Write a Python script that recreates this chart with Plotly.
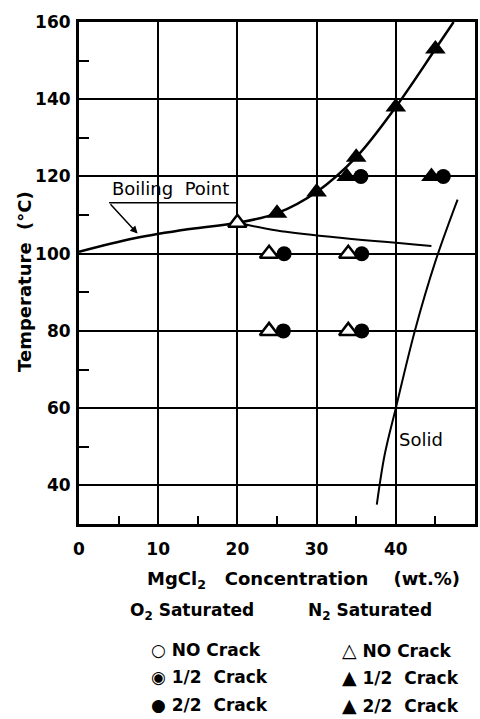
import plotly.graph_objects as go

# ---- data ----
bp_x = [0, 7, 14, 20, 25, 30, 35, 40, 45, 47.3]
bp_y = [100.5, 104, 106.4, 108, 110.5, 116, 125, 138, 153, 160]
bp2_x = [20, 25, 32, 44.5]
bp2_y = [108, 106, 104.3, 102]
solid_x = [37.6, 38.6, 40, 42.4, 45, 47.8]
solid_y = [35, 48, 60, 80, 98, 114]

n2_no_x = [20, 24, 34, 24, 34]
n2_no_y = [108, 100, 100, 80, 80]
n2_full_x = [25, 30, 35, 40, 45, 33.8, 44.5]
n2_full_y = [110.5, 116, 125, 138, 153, 120, 120]
o2_full_x = [35.6, 46, 25.9, 35.7, 25.8, 35.7]
o2_full_y = [120, 120, 100, 100, 80, 80]

x_ticks = [0, 10, 20, 30, 40]
y_ticks = [40, 60, 80, 100, 120, 140, 160]

FONT = "DejaVu Sans"

fig = go.Figure()
fig.add_trace(go.Scatter(x=bp_x, y=bp_y, mode="lines",
                         line=dict(color="black", width=2.5, shape="spline")))
fig.add_trace(go.Scatter(x=bp2_x, y=bp2_y, mode="lines",
                         line=dict(color="black", width=2, shape="spline")))
fig.add_trace(go.Scatter(x=solid_x, y=solid_y, mode="lines",
                         line=dict(color="black", width=2, shape="spline")))
fig.add_trace(go.Scatter(x=n2_no_x, y=n2_no_y, mode="markers",
                         marker=dict(symbol="triangle-up", size=16, color="white",
                                     line=dict(color="black", width=2.5))))
fig.add_trace(go.Scatter(x=n2_full_x, y=n2_full_y, mode="markers",
                         marker=dict(symbol="triangle-up", size=18, color="black")))
fig.add_trace(go.Scatter(x=o2_full_x, y=o2_full_y, mode="markers",
                         marker=dict(symbol="circle", size=15, color="black")))

# Boiling point label underline + arrow
fig.add_shape(type="line", x0=3.8, y0=113.2, x1=19.9, y1=113.2,
              line=dict(color="black", width=1.5))
fig.add_annotation(x=7.4, y=105.2, ax=3.8, ay=113.2, axref="x", ayref="y",
                   showarrow=True, arrowhead=2, arrowsize=1, arrowwidth=1.5,
                   arrowcolor="black", text="")
fig.add_annotation(x=11.6, y=116.8, text="Boiling  Point", showarrow=False,
                   xanchor="center", yanchor="middle",
                   font=dict(family=FONT, size=18, color="black"))
fig.add_annotation(x=40.2, y=52, text="Solid", showarrow=False,
                   xanchor="left", yanchor="middle",
                   font=dict(family=FONT, size=18, color="black"))


def pann(x, y, t, xanchor="left", size=17, angle=0):
    fig.add_annotation(xref="paper", yref="paper", x=x, y=y, text=t, showarrow=False,
                       xanchor=xanchor, yanchor="middle", textangle=angle,
                       font=dict(family=FONT, size=size, color="black", weight="bold"))


# axis titles
pann(-0.138, 0.483, "Temperature  (°C)", xanchor="center", size=18, angle=-90)
pann(0.566, -0.1116, "MgCl<sub>2</sub>   Concentration    (wt.%)", xanchor="center", size=18)

# legend as text
pann(0.123, -0.175, "O<sub>2</sub> Saturated")
pann(0.574, -0.175, "N<sub>2</sub> Saturated")
rows = [-0.251, -0.305, -0.361]
C = '<span style="font-size:17px">{}</span>'
T = '<span style="font-size:19px">{}</span>'
pann(0.178, rows[0], C.format("○") + " NO Crack")
pann(0.178, rows[1], C.format("◉") + " 1/2  Crack")
pann(0.178, rows[2], C.format("●") + " 2/2  Crack")
pann(0.659, rows[0], T.format("△") + " NO Crack")
pann(0.659, rows[1], T.format("▲") + " 1/2  Crack")
pann(0.659, rows[2], T.format("▲") + " 2/2  Crack")

tickfont = dict(family=FONT, size=17, color="black", weight="bold")
fig.update_layout(
    width=480, height=719, showlegend=False,
    plot_bgcolor="white", paper_bgcolor="white",
    margin=dict(l=79, r=2, t=22, b=195),
    xaxis=dict(range=[0, 50], tickvals=x_ticks, showgrid=True, gridcolor="black",
               gridwidth=1.5, showline=True, linecolor="black", linewidth=3, mirror=True,
               ticks="", zeroline=False, tickfont=tickfont, ticklabelstandoff=8,
               minor=dict(tickvals=[5, 15, 25, 35, 45], ticks="inside", ticklen=8,
                          tickwidth=2, tickcolor="black", showgrid=False)),
    yaxis=dict(range=[30, 160], tickvals=y_ticks, showgrid=True, gridcolor="black",
               gridwidth=1.5, showline=True, linecolor="black", linewidth=3, mirror=True,
               ticks="", zeroline=False, tickfont=tickfont, ticklabelstandoff=2,
               minor=dict(tickvals=[50, 70, 90, 110, 130, 150], ticks="inside", ticklen=10,
                          tickwidth=2, tickcolor="black", showgrid=False)),
)

fig.write_html("out.html")
